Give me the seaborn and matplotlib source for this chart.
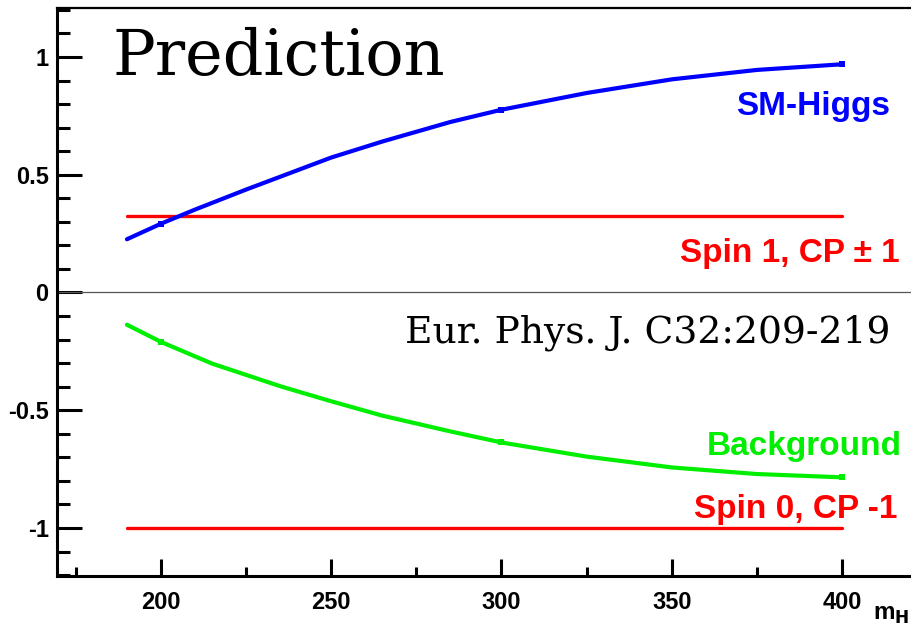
import numpy as np
import pandas as pd
import matplotlib
matplotlib.use("Agg")
import matplotlib.pyplot as plt
import seaborn as sns
from matplotlib.ticker import FixedLocator, MultipleLocator

# ---------------- data ----------------
sm_mass = [190, 200, 210, 225, 250, 265, 285, 300, 325, 350, 375, 400]
sm_asym = [0.226, 0.292, 0.352, 0.437, 0.573, 0.641, 0.724, 0.776, 0.847, 0.905, 0.945, 0.969]
bg_mass = [190, 200, 215, 235, 250, 265, 285, 300, 325, 350, 375, 400]
bg_asym = [-0.137, -0.210, -0.302, -0.398, -0.462, -0.523, -0.590, -0.637, -0.697, -0.743, -0.771, -0.785]
spin1_mass = [190, 400]
spin1_asym = [0.326, 0.326]
spin0_mass = [190, 400]
spin0_asym = [-1.0, -1.0]
marker_masses = [200, 300, 400]
x_ticks = [200, 250, 300, 350, 400]
x_tick_labels = ["200", "250", "300", "350", "400"]
y_ticks = [-1, -0.5, 0, 0.5, 1]
y_tick_labels = ["-1", "-0.5", "0", "0.5", "1"]

sm = pd.DataFrame({"mass": sm_mass, "asym": sm_asym})
bg = pd.DataFrame({"mass": bg_mass, "asym": bg_asym})
s1 = pd.DataFrame({"mass": spin1_mass, "asym": spin1_asym})
s0 = pd.DataFrame({"mass": spin0_mass, "asym": spin0_asym})

sns.set_style("white")
plt.rcParams["font.family"] = ["Liberation Sans", "DejaVu Sans"]
plt.rcParams["text.color"] = "black"
plt.rcParams["xtick.color"] = "black"
plt.rcParams["ytick.color"] = "black"
plt.rcParams["axes.labelcolor"] = "black"

W, H = 912, 633
fig = plt.figure(figsize=(W / 100, H / 100), dpi=100)
xlim = (169.46, 425.0)
ylim = (-1.204, 1.208)
ppu = 3.405
ax_w = (xlim[1] - xlim[0]) * ppu
ax = fig.add_axes([57 / W, (H - 576) / H, ax_w / W, (576 - 8) / H])
ax.set_xlim(*xlim)
ax.set_ylim(*ylim)

BLUE = "#0000ff"
RED = "#ff0000"
GREEN = "#00ee00"

ax.axhline(0, color="#555555", lw=0.9, zorder=1)

sns.lineplot(data=s1, x="mass", y="asym", color=RED, lw=2.4, ax=ax,
             estimator=None, sort=False, zorder=2)
sns.lineplot(data=s0, x="mass", y="asym", color=RED, lw=2.4, ax=ax,
             estimator=None, sort=False, zorder=2)
sns.lineplot(data=sm, x="mass", y="asym", color=BLUE, lw=3.0, ax=ax,
             estimator=None, sort=False, zorder=3)
sns.lineplot(data=bg, x="mass", y="asym", color=GREEN, lw=3.0, ax=ax,
             estimator=None, sort=False, zorder=3)
sns.scatterplot(data=sm[sm["mass"].isin(marker_masses)], x="mass", y="asym",
                color=BLUE, marker="s", s=18, linewidth=0, ax=ax, zorder=4)
sns.scatterplot(data=bg[bg["mass"].isin(marker_masses)], x="mass", y="asym",
                color=GREEN, marker="s", s=18, linewidth=0, ax=ax, zorder=4)

# axes styling (ROOT-like)
for side in ["left", "bottom"]:
    ax.spines[side].set_linewidth(2.2)
    ax.spines[side].set_color("black")
ax.spines["top"].set_linewidth(1.6)
ax.spines["top"].set_color("black")
ax.spines["right"].set_visible(False)

ax.xaxis.set_major_locator(FixedLocator(x_ticks))
ax.set_xticklabels(x_tick_labels)
ax.xaxis.set_minor_locator(MultipleLocator(25))
ax.yaxis.set_major_locator(FixedLocator(y_ticks))
ax.set_yticklabels(y_tick_labels)
ax.yaxis.set_minor_locator(MultipleLocator(0.1))

ax.tick_params(axis="x", which="major", direction="in", length=12, width=2.2,
               pad=11, labelsize=17, bottom=True, top=False, colors="black")
ax.tick_params(axis="x", which="minor", direction="in", length=6.5, width=2.2,
               bottom=True, top=False, colors="black")
ax.tick_params(axis="y", which="major", direction="in", length=18, width=2.2,
               pad=6, labelsize=17, left=True, right=False, colors="black")
ax.tick_params(axis="y", which="minor", direction="in", length=9, width=2.2,
               left=True, right=False, colors="black")
for lab in ax.get_xticklabels() + ax.get_yticklabels():
    lab.set_fontweight("bold")
    lab.set_color("black")
ax.set_xlabel("")
ax.set_ylabel("")

# texts
ax.text(185.9, 0.924, "Prediction", family="DejaVu Serif", fontsize=45.8,
        ha="left", va="baseline", color="black")
ax.text(271.7, -0.214, "Eur. Phys. J. C32:209-219", family="DejaVu Serif",
        fontsize=27.1, ha="left", va="baseline", color="black")
ax.text(414.1, 0.754, "SM-Higgs", fontsize=24, fontweight="bold", color=BLUE,
        ha="right", va="baseline")
ax.text(417.0, 0.130, "Spin 1, CP \u00b1 1", fontsize=24, fontweight="bold",
        color=RED, ha="right", va="baseline")
ax.text(417.6, -0.690, "Background", fontsize=24, fontweight="bold",
        color=GREEN, ha="right", va="baseline")
ax.text(416.4, -0.958, "Spin 0, CP -1", fontsize=24, fontweight="bold",
        color=RED, ha="right", va="baseline")
fig.text(909 / W, (H - 620) / H, r"m$_{\mathbf{H}}$", fontsize=17.5,
         fontweight="bold", ha="right", va="baseline", color="black")

fig.savefig("out.png", dpi=100)
